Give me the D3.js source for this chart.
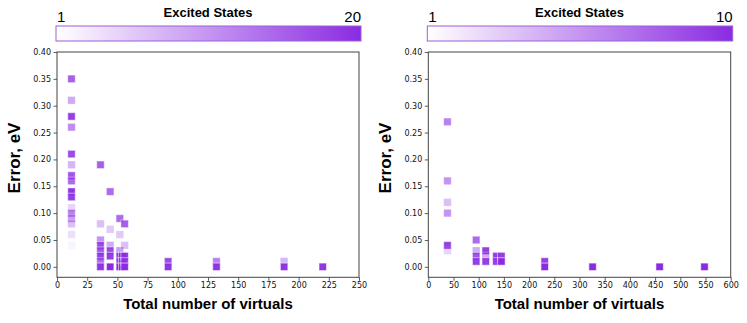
<html>
<head>
<script type="text/javascript" src="https://cdn.jsdelivr.net/npm/d3@7"></script>
<style>
  body { margin: 0; background: #fff; }
  text { font-family: "DejaVu Sans", sans-serif; }
</style>
</head>
<body>
<script type="text/javascript">

// left panel : up to 20 excited states
var leftVirtuals = [12,12,12,12,12,12,12,12,12,12,12,12,12,12,12,12,
                    36,36,36,36,36,36,36,36,
                    44,44,44,44,44,44,
                    52,52,52,52,52,52,
                    54,54,54,
                    56,56,56,56,56,
                    92,92,132,132,188,188,220];
var leftError = [0.35,0.31,0.28,0.26,0.21,0.19,0.17,0.16,0.14,0.13,0.11,0.10,0.09,0.08,0.06,0.04,
                 0.19,0.08,0.05,0.04,0.03,0.02,0.01,0.00,
                 0.14,0.07,0.04,0.03,0.02,0.00,
                 0.09,0.06,0.03,0.02,0.01,0.00,
                 0.02,0.01,0.00,
                 0.08,0.04,0.02,0.01,0.00,
                 0.01,0.00,0.01,0.00,0.01,0.00,0.00];
var leftStates = [15,8,18,11,17,7,16,14,19,18,4,12,9,6,3,1,
                  15,6,10,17,16,18,14,19,
                  14,5,8,17,18,20,
                  14,5,9,19,18,20,
                  17,16,18,
                  15,6,19,18,20,
                  17,19,12,19,7,19,19];

// right panel : up to 10 excited states
var rightVirtuals = [38,38,38,38,38,38,
                     95,95,95,95,
                     114,114,114,
                     135,135,145,145,
                     231,231,326,459,548];
var rightError = [0.27,0.16,0.12,0.10,0.04,0.03,
                  0.05,0.03,0.02,0.01,
                  0.03,0.02,0.01,
                  0.02,0.01,0.02,0.01,
                  0.01,0.00,0.00,0.00,0.00];
var rightStates = [6,5,3,5,9,2,
                   7,4,8,9,
                   9,4,9,
                   9,9,9,10,
                   9,10,10,10,10];

var yTicks = [0,0.05,0.10,0.15,0.20,0.25,0.30,0.35,0.40];
var leftXTicks = [0,25,50,75,100,125,150,175,200,225,250];
var rightXTicks = [0,50,100,150,200,250,300,350,400,450,500,550,600];

var purple = "#8a2be2";

var svg = d3.select("body").append("svg").attr("width", 747).attr("height", 323);

var defs = svg.append("defs");
var grad = defs.append("linearGradient").attr("id", "cbar");
grad.append("stop").attr("offset", "0%").attr("stop-color", "#ffffff");
grad.append("stop").attr("offset", "100%").attr("stop-color", purple);

function panel(opts) {
	var x = d3.scaleLinear().domain([0, opts.xmax]).range([opts.left, opts.right]);
	var y = d3.scaleLinear().domain([-0.0195, 0.40]).range([277.3, 52]);

	var g = svg.append("g");

	// colorbar on top
	g.append("rect")
		.attr("x", opts.left - 1).attr("y", 26)
		.attr("width", opts.right - opts.left + 3).attr("height", 15)
		.attr("fill", "url(#cbar)")
		.attr("stroke", "#9d5fd8").attr("stroke-width", 1);
	g.append("text").attr("x", (opts.left + opts.right) / 2).attr("y", 17)
		.attr("text-anchor", "middle")
		.style("font-family", "'Liberation Sans', Arial, sans-serif")
		.style("font-weight", "bold").style("font-size", "13px")
		.text("Excited States");
	g.append("text").attr("x", opts.left).attr("y", 22)
		.style("font-family", "'Liberation Sans', Arial, sans-serif")
		.style("font-size", "15px").text("1");
	g.append("text").attr("x", opts.right + 2).attr("y", 22)
		.attr("text-anchor", "end")
		.style("font-family", "'Liberation Sans', Arial, sans-serif")
		.style("font-size", "15px").text(opts.maxState);

	// squares
	var pts = opts.xs.map(function(v, i) { return {x: v, y: opts.ys[i], s: opts.ss[i]}; });
	var sz = 7.5;
	g.append("g").selectAll("rect")
		.data(pts)
		.enter().append("rect")
		.attr("x", function(d) { return x(d.x) - sz / 2; })
		.attr("y", function(d) { return y(d.y) - sz / 2; })
		.attr("width", sz).attr("height", sz)
		.attr("fill", purple)
		.attr("fill-opacity", function(d) { return d.s / opts.maxState; })
		.attr("stroke", "#fff")
		.attr("stroke-opacity", function(d) { return 0.6 * d.s / opts.maxState; })
		.attr("stroke-width", 1);

	// axes
	var xAxis = g.append("g").attr("transform", "translate(0,277.3)")
		.call(d3.axisBottom(x).tickValues(opts.xticks).tickSize(3.5).tickPadding(2).tickFormat(d3.format("d")));
	var yAxis = g.append("g").attr("transform", "translate(" + opts.left + ",0)")
		.call(d3.axisLeft(y).tickValues(yTicks).tickSize(3.5).tickPadding(2.5).tickFormat(d3.format(".2f")));
	[xAxis, yAxis].forEach(function(a) {
		a.select(".domain").remove();
		a.selectAll("line").attr("stroke", "#333").attr("stroke-width", 0.8);
		a.selectAll("text").style("font-family", "'DejaVu Sans', sans-serif").style("font-size", "8px").attr("fill", "#111");
	});

	// frame
	g.append("rect")
		.attr("x", opts.left).attr("y", 52)
		.attr("width", opts.right - opts.left).attr("height", 277.3 - 52)
		.attr("fill", "none").attr("stroke", "#444").attr("stroke-width", 1);

	// axis labels
	g.append("text")
		.attr("x", (opts.left + opts.right) / 2).attr("y", 309)
		.attr("text-anchor", "middle")
		.style("font-family", "'Liberation Sans', Arial, sans-serif")
		.style("font-weight", "bold").style("font-size", "15px")
		.text("Total number of virtuals");
	g.append("text")
		.attr("transform", "translate(" + (opts.left - 37) + ",158) rotate(-90)")
		.attr("text-anchor", "middle")
		.style("font-family", "'Liberation Sans', Arial, sans-serif")
		.style("font-weight", "bold").style("font-size", "17px")
		.text("Error, eV");
}

panel({left: 57, right: 359, xmax: 250, xticks: leftXTicks, maxState: 20,
       xs: leftVirtuals, ys: leftError, ss: leftStates});
panel({left: 428.3, right: 730.7, xmax: 600, xticks: rightXTicks, maxState: 10,
       xs: rightVirtuals, ys: rightError, ss: rightStates});

</script>
</body>
</html>
